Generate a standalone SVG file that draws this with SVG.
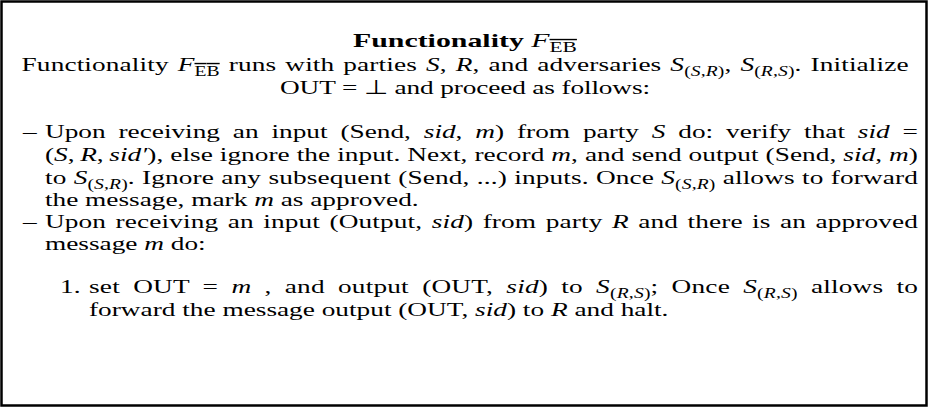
<svg xmlns="http://www.w3.org/2000/svg" width="929" height="407" viewBox="0 0 929 407">
<style>
text{font-family:"Liberation Serif","Times New Roman",serif;font-size:19.5px;fill:#000}
.i{font-style:italic}
.s{font-size:14px}
.b{font-weight:bold}
.n{font-weight:normal}
</style>
<rect id="frame" x="1.5" y="1.5" width="925" height="404" fill="#fff" stroke="#000" stroke-width="2.5"/>
<g id="content" transform="scale(1.4,1)">
<g id="header">
<text class="b" x="252.1" y="47.5" textLength="160" lengthAdjust="spacingAndGlyphs">Functionality <tspan class="i n">F</tspan><tspan class="s n" dy="4.5" text-decoration="overline">EB</tspan></text>
<text x="15.4" y="71.5" textLength="633.6" lengthAdjust="spacing" style="word-spacing:1.48px">Functionality <tspan class="i">F</tspan><tspan class="s" dy="4.5" text-decoration="overline">EB</tspan><tspan dy="-4.5"> runs with parties </tspan><tspan class="i">S</tspan>, <tspan class="i">R</tspan>, and adversaries <tspan class="i">S</tspan><tspan class="s" dy="4.5">(<tspan class="i">S</tspan>,<tspan class="i">R</tspan>)</tspan><tspan dy="-4.5">, </tspan><tspan class="i">S</tspan><tspan class="s" dy="4.5">(<tspan class="i">R</tspan>,<tspan class="i">S</tspan>)</tspan><tspan dy="-4.5">. Initialize</tspan></text>
<text x="200" y="94.5" textLength="264.3" lengthAdjust="spacing">OUT = ⊥ and proceed as follows:</text>
</g>
<g id="item1">
<text x="16.4" y="138.5">–</text>
<text x="32.1" y="138.5" textLength="623.6" lengthAdjust="spacing" style="word-spacing:4.3px">Upon receiving an input (Send, <tspan class="i">sid</tspan>, <tspan class="i">m</tspan>) from party <tspan class="i">S</tspan> do: verify that <tspan class="i">sid</tspan> =</text>
<text x="32.1" y="161.5" textLength="623.6" lengthAdjust="spacing" style="word-spacing:0.06px">(<tspan class="i">S</tspan>,&#8201;<tspan class="i">R</tspan>,&#8201;<tspan class="i">sid′</tspan>), else ignore the input. Next, record <tspan class="i">m</tspan>, and send output (Send, <tspan class="i">sid</tspan>, <tspan class="i">m</tspan>)</text>
<text x="32.1" y="184.5" textLength="623.6" lengthAdjust="spacing" style="word-spacing:0.25px">to <tspan class="i">S</tspan><tspan class="s" dy="4.5">(<tspan class="i">S</tspan>,<tspan class="i">R</tspan>)</tspan><tspan dy="-4.5">. Ignore any subsequent (Send, ...) inputs. Once </tspan><tspan class="i">S</tspan><tspan class="s" dy="4.5">(<tspan class="i">S</tspan>,<tspan class="i">R</tspan>)</tspan><tspan dy="-4.5"> allows to forward</tspan></text>
<text x="32.1" y="206.5">the message, mark <tspan class="i">m</tspan> as approved.</text>
</g>
<g id="item2">
<text x="16.4" y="228.5">–</text>
<text x="32.1" y="228.5" textLength="623.6" lengthAdjust="spacing" style="word-spacing:1.8px">Upon receiving an input (Output, <tspan class="i">sid</tspan>) from party <tspan class="i">R</tspan> and there is an approved</text>
<text x="32.1" y="250.5">message <tspan class="i">m</tspan> do:</text>
</g>
<g id="step1">
<text x="42.9" y="293.5">1.</text>
<text x="63.6" y="293.5" textLength="592.1" lengthAdjust="spacing" style="word-spacing:4.45px">set OUT = <tspan class="i">m</tspan> , and output (OUT, <tspan class="i">sid</tspan>) to <tspan class="i">S</tspan><tspan class="s" dy="4.5">(<tspan class="i">R</tspan>,<tspan class="i">S</tspan>)</tspan><tspan dy="-4.5">; Once </tspan><tspan class="i">S</tspan><tspan class="s" dy="4.5">(<tspan class="i">R</tspan>,<tspan class="i">S</tspan>)</tspan><tspan dy="-4.5"> allows to</tspan></text>
<text x="63.6" y="316.5">forward the message output (OUT, <tspan class="i">sid</tspan>) to <tspan class="i">R</tspan> and halt.</text>
</g>
</g>
</svg>
